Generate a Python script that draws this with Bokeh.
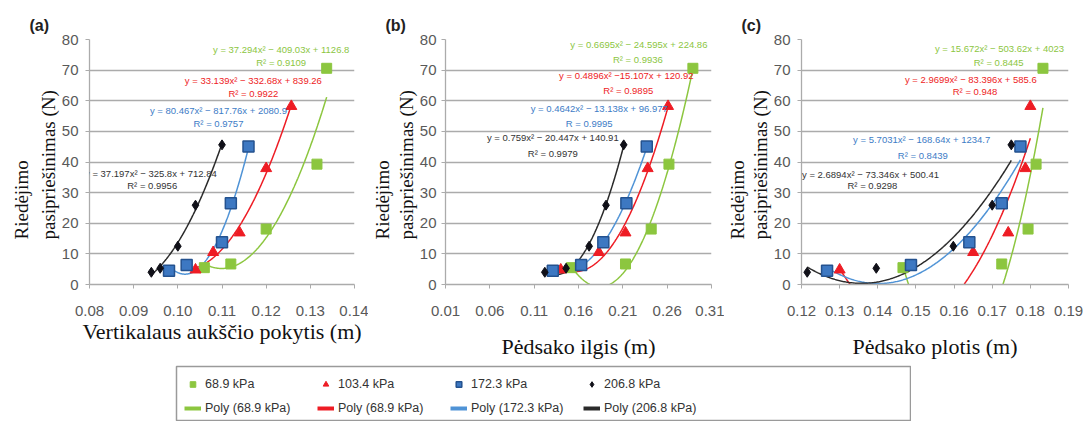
import numpy as np
from bokeh.plotting import figure
from bokeh.models import (Range1d, FixedTicker, NumeralTickFormatter, Label, Title,
                          Legend, LegendItem, Spacer)
from bokeh.layouts import row, column
from bokeh.embed import file_html
from bokeh.resources import INLINE

# ---------------- data ----------------
series_names = ["68.9 kPa", "103.4 kPa", "172.3 kPa", "206.8 kPa"]
trend_names = ["Poly (68.9 kPa)", "Poly (68.9 kPa)", "Poly (172.3 kPa)", "Poly (206.8 kPa)"]

# rolling resistance (N), same measurements in all three panels
y_689 = [5.5, 6.7, 18.1, 39.3, 70.6]
y_1034 = [4.8, 10.5, 16.9, 37.9, 58.2]
y_1723 = [4.5, 6.4, 13.8, 26.5, 45.1]
y_2068 = [4.0, 5.3, 12.5, 25.9, 45.6]

# (a) vertical height change (m)
a_x_689 = [0.106, 0.112, 0.120, 0.1315, 0.1337]
a_x_1034 = [0.104, 0.108, 0.114, 0.120, 0.1257]
a_x_1723 = [0.098, 0.102, 0.110, 0.112, 0.116]
a_x_2068 = [0.094, 0.096, 0.100, 0.104, 0.110]

# (b) footprint length (m)
b_x_689 = [0.152, 0.213, 0.242, 0.262, 0.289]
b_x_1034 = [0.140, 0.183, 0.213, 0.238, 0.261]
b_x_1723 = [0.131, 0.163, 0.188, 0.214, 0.237]
b_x_2068 = [0.122, 0.146, 0.172, 0.191, 0.211]

# (c) footprint width (m)
c_x_689 = [0.1466, 0.1725, 0.1794, 0.1815, 0.1833]
c_x_1034 = [0.1300, 0.1650, 0.1742, 0.1787, 0.1800]
c_x_1723 = [0.1267, 0.1487, 0.1640, 0.1725, 0.1774]
c_x_2068 = [0.1215, 0.1396, 0.1598, 0.1700, 0.1750]

y_ticks = [0, 10, 20, 30, 40, 50, 60, 70, 80]
a_ticks = [0.08, 0.09, 0.10, 0.11, 0.12, 0.13, 0.14]
b_ticks = [0.01, 0.06, 0.11, 0.16, 0.21, 0.26, 0.31]
c_ticks = [0.12, 0.13, 0.14, 0.15, 0.16, 0.17, 0.18, 0.19]

a_eq = ["y = 37.294x² − 409.03x + 1126.8", "y = 33.139x² − 332.68x + 839.26",
        "y = 80.467x² − 817.76x + 2080.9", "y = 37.197x² − 325.8x + 712.84"]
a_r2 = ["R² = 0.9109", "R² = 0.9922", "R² = 0.9757", "R² = 0.9956"]
b_eq = ["y = 0.6695x² − 24.595x + 224.86", "y = 0.4896x² −15.107x + 120.92",
        "y = 0.4642x² − 13.138x + 96.977", "y = 0.759x² − 20.447x + 140.91"]
b_r2 = ["R² = 0.9936", "R² = 0.9895", "R  = 0.9995", "R² = 0.9979"]
c_eq = ["y = 15.672x² − 503.62x + 4023", "y = 2.9699x² − 83.396x + 585.6",
        "y = 5.7031x² − 168.64x + 1234.7", "y = 2.6894x² − 73.346x + 500.41"]
c_r2 = ["R² = 0.8445", "R² = 0.948", "R² = 0.8439", "R² = 0.9298"]

# ---------------- style ----------------
SERIF = "Liberation Serif"
SANS = "Liberation Sans"
GREEN = "#8cc63f"
RED = "#ee1c24"
BLUE_M = "#3d78c2"
BLUE_E = "#24528f"
BLUE_L = "#4f93d6"
BLACK_M = "#101018"
BLACK_L = "#2a2a2a"
GRID = "#ababab"
TICK = "#595959"

marker_style = [
    dict(marker="square", size=10, fill_color=GREEN, line_color=GREEN),
    dict(marker="triangle", size=11, fill_color=RED, line_color=RED),
    dict(marker="square", size=11, fill_color=BLUE_M, line_color=BLUE_E, line_width=1.5),
    dict(marker="diamond", size=10, fill_color=BLACK_M, line_color=BLACK_M),
]
line_colors = [GREEN, RED, BLUE_L, BLACK_L]
text_colors = [GREEN, RED, "#3d7cc6", "#333333"]
ys_all = [y_689, y_1034, y_1723, y_2068]


def trend(xs, ys):
    coef = np.polyfit(xs, ys, 2)
    xx = np.linspace(min(xs), max(xs), 200)
    return xx, np.polyval(coef, xx)


def make_panel(letter, xs_list, xr, ticks, xlabel, eqs, r2s, eq_pos, r2_pos,
               width, bl, br, xstand, ystand, gap):
    p = figure(width=width, height=362, x_range=Range1d(*xr), y_range=Range1d(0, 80),
               output_backend="svg", toolbar_location=None, title=letter,
               min_border_left=bl, min_border_right=br, min_border_top=39,
               min_border_bottom=78, outline_line_color=None)
    p.title.align = "left"
    p.title.offset = -60
    p.title.text_font = SANS
    p.title.text_font_size = "16px"
    p.title.text_font_style = "bold"
    p.title.text_color = "#222222"
    p.title.standoff = 12

    p.xgrid.visible = False
    p.ygrid.ticker = FixedTicker(ticks=y_ticks)
    p.ygrid.grid_line_color = GRID
    p.ygrid.grid_line_width = 1.3

    p.yaxis.ticker = FixedTicker(ticks=y_ticks)
    p.xaxis.ticker = FixedTicker(ticks=ticks)
    p.xaxis.formatter = NumeralTickFormatter(format="0.00")
    for ax in (p.xaxis[0], p.yaxis[0]):
        ax.axis_line_color = GRID
        ax.axis_line_width = 1.3
        ax.major_tick_line_color = GRID
        ax.major_tick_out = 4
        ax.major_tick_in = 0
        ax.minor_tick_line_color = None
        ax.major_label_text_font = SANS
        ax.major_label_text_font_size = "15px"
        ax.major_label_text_color = TICK
    p.xaxis.major_label_standoff = 17
    p.yaxis.major_label_standoff = ystand
    p.xaxis.axis_label = xlabel
    p.xaxis.axis_label_text_font = SERIF
    p.xaxis.axis_label_text_font_style = "normal"
    p.xaxis.axis_label_text_font_size = "22px"
    p.xaxis.axis_label_text_color = "#111111"
    p.xaxis.axis_label_standoff = xstand

    for txt, so in [("pasipriešinimas (N)", 0), ("Riedėjimo", gap)]:
        t = Title(text=txt, align="left", offset=45, text_font=SERIF,
                  text_font_size="19px", text_font_style="normal",
                  text_color="#111111", standoff=so, text_line_height=1.0)
        p.add_layout(t, "left")

    for i in range(4):
        xx, yy = trend(xs_list[i], ys_all[i])
        p.line(xx, yy, line_color=line_colors[i], line_width=1.5)
    for i in range(4):
        p.scatter(xs_list[i], ys_all[i], **marker_style[i])

    for i in range(4):
        p.add_layout(Label(x=eq_pos[i][0], y=eq_pos[i][1], text=eqs[i], text_align="center",
                           text_baseline="middle", text_font=SANS, text_font_size="9.5px",
                           text_color=text_colors[i]))
        p.add_layout(Label(x=r2_pos[i][0], y=r2_pos[i][1], text=r2s[i], text_align="center",
                           text_baseline="middle", text_font=SANS, text_font_size="9.5px",
                           text_color=text_colors[i]))
    return p


pa = make_panel("(a)", [a_x_689, a_x_1034, a_x_1723, a_x_2068], (0.08, 0.14), a_ticks,
                "Vertikalaus aukščio pokytis (m)", a_eq, a_r2,
                [(0.1234, 76.8), (0.1171, 66.7), (0.1092, 56.9), (0.0939, 36.3)],
                [(0.1234, 72.5), (0.1171, 62.4), (0.1092, 52.6), (0.0942, 32.4)],
                368, 89, 14, 0, 7, 8)
pb = make_panel("(b)", [b_x_689, b_x_1034, b_x_1723, b_x_2068], (0.01, 0.31), b_ticks,
                "Pėdsako ilgis (m)", b_eq, b_r2,
                [(0.2281, 78.4), (0.2139, 68.3), (0.1834, 57.5), (0.131, 48.0)],
                [(0.227, 73.5), (0.2161, 63.4), (0.1736, 52.6), (0.131, 42.8)],
                356, 74, 13, 15, 5, 2)
pc = make_panel("(c)", [c_x_689, c_x_1034, c_x_1723, c_x_2068], (0.12, 0.19), c_ticks,
                "Pėdsako plotis (m)", c_eq, c_r2,
                [(0.1719, 77.1), (0.1644, 67.0), (0.1515, 47.4), (0.1381, 35.9)],
                [(0.1717, 72.5), (0.1655, 63.1), (0.1518, 42.2), (0.1386, 32.4)],
                368, 73, 24, 15, 7, 0)

# ---------------- legend ----------------
leg = figure(width=736, height=56, output_backend="svg", toolbar_location=None,
             x_range=Range1d(0, 1), y_range=Range1d(0, 1), x_axis_type=None, y_axis_type=None,
             min_border=1, outline_line_color="#9a9a9a", outline_line_width=1.5)
leg.grid.visible = False
a_xs = [a_x_689, a_x_1034, a_x_1723, a_x_2068]
items = []
line_items = []
leg_marker_style = [
    dict(marker="square", size=9, fill_color=GREEN, line_color=GREEN),
    dict(marker="triangle", size=11, fill_color=RED, line_color=RED),
    dict(marker="square", size=9, fill_color=BLUE_M, line_color=BLUE_E, line_width=1.5),
    dict(marker="diamond", size=10, fill_color=BLACK_M, line_color=BLACK_M),
]
for i in range(4):
    r = leg.scatter(a_xs[i], ys_all[i], visible=False, **leg_marker_style[i])
    items.append(LegendItem(label=series_names[i], renderers=[r]))
for i in range(4):
    r = leg.line(a_xs[i], ys_all[i], visible=False, line_color=line_colors[i], line_width=4)
    line_items.append(LegendItem(label=trend_names[i], renderers=[r]))
legend = Legend(items=items + line_items, orientation="horizontal", ncols=4,
                location="top_left", border_line_color=None, background_fill_alpha=0,
                inactive_fill_alpha=0, glyph_width=17, glyph_height=14, label_standoff=4,
                label_width=108, label_height=20, spacing=4, padding=3, margin=8,
                label_text_font=SANS, label_text_font_size="12.5px",
                label_text_color="#333333")
leg.add_layout(legend)

layout = column(row(pa, pb, pc), Spacer(width=1092, height=3),
                row(Spacer(width=175, height=56), leg))

open("out.html", "w").write(file_html(layout, INLINE))
